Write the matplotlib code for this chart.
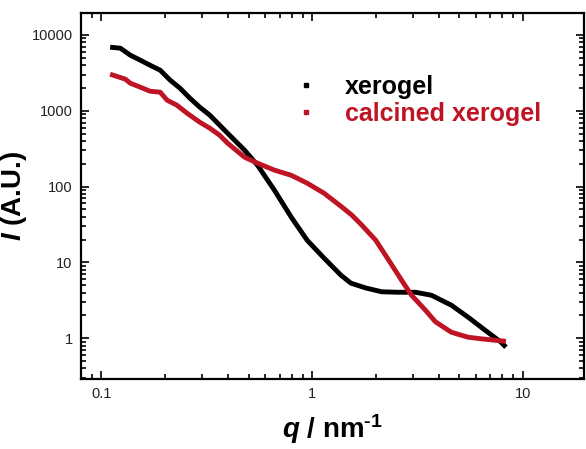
import matplotlib
matplotlib.use("Agg")
import matplotlib.pyplot as plt
from matplotlib.lines import Line2D

# SAXS curves
q_xero = [0.110, 0.123, 0.137, 0.153, 0.170, 0.190, 0.212, 0.236, 0.263, 0.293,
          0.327, 0.364, 0.397, 0.478, 0.550, 0.662, 0.796, 0.947, 1.139, 1.370,
          1.528, 1.798, 2.139, 2.573, 3.095, 3.681, 4.575, 5.503, 6.62, 7.88,
          8.31]
I_xero = [6900, 6700, 5420, 4650, 3995, 3434, 2534, 1987, 1466, 1115,
          875, 646, 506, 302, 192, 89.7, 39.5, 19.6, 11.4, 6.78,
          5.32, 4.6, 4.1, 4.04, 4.04, 3.69, 2.73, 1.89, 1.275, 0.886,
          0.761]

q_calc = [0.110, 0.130, 0.137, 0.153, 0.170, 0.190, 0.205, 0.228, 0.255, 0.293,
          0.327, 0.364, 0.397, 0.478, 0.550, 0.662, 0.796, 0.947, 1.139, 1.370,
          1.544, 1.721, 2.004, 2.308, 2.658, 2.963, 3.45, 3.845, 4.575, 5.503,
          6.62, 8.31]
I_calc = [3040, 2612, 2313, 2048, 1814, 1760, 1380, 1186, 929, 707,
          589, 476, 374, 244, 204, 165, 141, 111, 81.8, 55,
          42, 31, 19.6, 10.7, 5.82, 3.69, 2.34, 1.65, 1.20, 1.03,
          0.97, 0.91]

labels = ["xerogel", "calcined xerogel"]
colors = ["#000000", "#bf1424"]

x_ticks = [0.1, 1, 10]
x_ticklabels = ["0.1", "1", "10"]
y_ticks = [1, 10, 100, 1000, 10000]
y_ticklabels = ["1", "10", "100", "1000", "10000"]

plt.rcParams["font.family"] = ["Liberation Sans", "DejaVu Sans"]
plt.rcParams["mathtext.fontset"] = "custom"
plt.rcParams["mathtext.rm"] = "Liberation Sans:bold"
plt.rcParams["mathtext.it"] = "Liberation Sans:italic:bold"
plt.rcParams["mathtext.bf"] = "Liberation Sans:bold"
plt.rcParams["mathtext.bfit"] = "Liberation Sans:italic:bold"


def main():
    fig = plt.figure(figsize=(5.86, 4.49), dpi=100)
    ax = fig.add_axes([81 / 586, 70 / 449, 503 / 586, 366 / 449])

    ax.plot(q_xero, I_xero, color=colors[0], lw=3.5, solid_capstyle="butt")
    ax.plot(q_calc, I_calc, color=colors[1], lw=3.5, solid_capstyle="butt")

    ax.set_xscale("log")
    ax.set_yscale("log")
    ax.set_xlim(0.08, 19.5)
    ax.set_ylim(0.29, 19500)

    ax.set_xticks(x_ticks)
    ax.set_xticklabels(x_ticklabels)
    ax.set_yticks(y_ticks)
    ax.set_yticklabels(y_ticklabels)

    ax.tick_params(which="both", direction="in", top=True, right=True,
                   width=1.2, labelsize=10.5, labelcolor="#222222")
    ax.tick_params(which="major", length=6, pad=6)
    ax.tick_params(which="minor", length=3.5)
    for s in ax.spines.values():
        s.set_linewidth(1.6)

    ax.set_xlabel(r"$\mathit{q}$ / nm$^{\text{-1}}$", fontsize=20,
                  fontweight="bold", labelpad=8)
    ax.set_ylabel(r"$\mathit{I}$ (A.U.)", fontsize=20, fontweight="bold",
                  labelpad=2)

    handles = [Line2D([], [], color=c, marker="s", ms=3.5, ls="none")
               for c in colors]
    leg = ax.legend(handles, labels, loc="upper left",
                    bbox_to_anchor=(0.378, 0.892), frameon=False,
                    handlelength=1.0, handletextpad=1.06, labelspacing=0.1,
                    prop={"weight": "bold", "size": 18})
    for t, c in zip(leg.get_texts(), colors):
        t.set_color(c)

    fig.savefig("out.png", dpi=100)


if __name__ == "__main__":
    main()
